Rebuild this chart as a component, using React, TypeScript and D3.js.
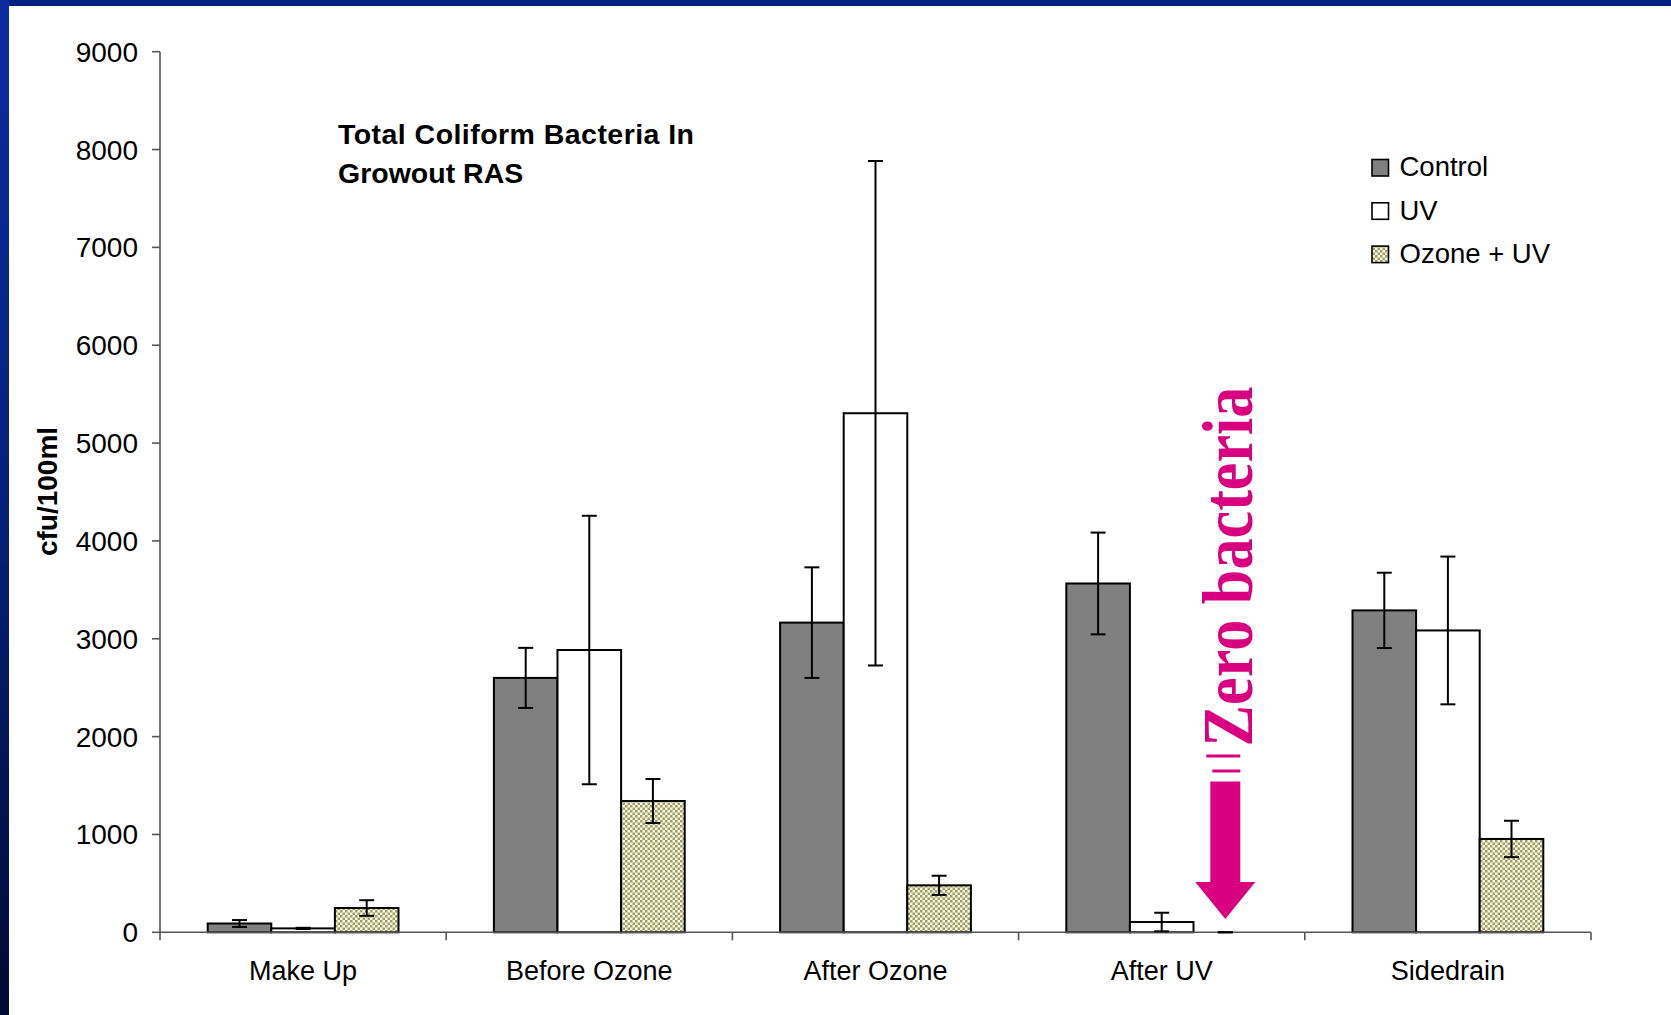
import React from "react";
import * as d3 from "d3";

const categories = ["Make Up", "Before Ozone", "After Ozone", "After UV", "Sidedrain"];
const seriesNames = ["Control", "UV", "Ozone + UV"];
const controlValues = [90, 2600, 3165, 3565, 3290];
const controlErrors = [35, 307, 565, 520, 385];
const uvValues = [40, 2885, 5305, 105, 3085];
const uvErrors = [6, 1372, 2578, 95, 755];
const ozoneValues = [248, 1342, 480, 0, 954];
const ozoneErrors = [80, 225, 98, 0, 186];
const yTicks = [0, 1000, 2000, 3000, 4000, 5000, 6000, 7000, 8000, 9000];

const W = 1671;
const H = 1015;
const plotLeft = 160;
const plotRight = 1591;
const plotTop = 51.7;
const plotBottom = 932.3;
const MAGENTA = "#d8007e";

export default function App() {
  const x = d3.scaleBand<string>().domain(categories).range([plotLeft, plotRight]).padding(0);
  const xs = d3.scaleBand<string>().domain(seriesNames).range([0, x.bandwidth()]).paddingInner(0).paddingOuter(0.75);
  const y = d3.scaleLinear().domain([0, 9000]).range([plotBottom, plotTop]);

  const series = [
    { name: "Control", values: controlValues, errors: controlErrors, fill: "#808080" },
    { name: "UV", values: uvValues, errors: uvErrors, fill: "#ffffff" },
    { name: "Ozone + UV", values: ozoneValues, errors: ozoneErrors, fill: "url(#checker)" },
  ];

  const font = "'Liberation Sans', Arial, sans-serif";
  const bw = xs.bandwidth();
  const capW = 7.5;

  // annotation for After UV / Ozone + UV
  const annX = (x("After UV") as number) + (xs("Ozone + UV") as number) + bw / 2;
  const tipY = y(136);
  const headY = y(514);
  const shaftTop = y(1541);
  const textStartY = y(1900);
  const textEndY = y(5578);

  return (
    <svg width={W} height={H} style={{ position: "absolute", left: 0, top: 0, display: "block" }}>
      <defs>
        <linearGradient id="leftbar" x1="0" y1="0" x2="0" y2="1">
          <stop offset="0" stopColor="#0b2ca0" />
          <stop offset="0.5" stopColor="#06207a" />
          <stop offset="1" stopColor="#000a32" />
        </linearGradient>
        <pattern id="checker" width="5" height="5" patternUnits="userSpaceOnUse">
          <rect width="5" height="5" fill="#ffffc4" />
          <rect x="0" y="0" width="2.5" height="2.5" fill="#9a9a8a" />
          <rect x="2.5" y="2.5" width="2.5" height="2.5" fill="#9a9a8a" />
        </pattern>
      </defs>
      <rect x={0} y={0} width={W} height={H} fill="#ffffff" />
      <rect x={0} y={0} width={W} height={6} fill="#00207f" />
      <rect x={0} y={0} width={9} height={H} fill="url(#leftbar)" />

      {/* bars */}
      {series.map((s) =>
        categories.map((c, i) => {
          const bx = (x(c) as number) + (xs(s.name) as number);
          const v = s.values[i];
          return (
            <rect
              key={s.name + c}
              x={bx}
              y={y(v)}
              width={bw}
              height={y(0) - y(v)}
              fill={s.fill}
              stroke="#000"
              strokeWidth={v > 0 ? 2 : 0}
            />
          );
        })
      )}

      {/* axes */}
      <line x1={plotLeft} x2={plotLeft} y1={plotTop} y2={plotBottom + 8} stroke="#555" strokeWidth={1.6} />
      <line x1={plotLeft} x2={plotRight} y1={plotBottom} y2={plotBottom} stroke="#555" strokeWidth={1.6} />
      {yTicks.map((t) => (
        <g key={t}>
          <line x1={plotLeft - 8} x2={plotLeft} y1={y(t)} y2={y(t)} stroke="#555" strokeWidth={1.6} />
          <text x={138} y={y(t) + 10} textAnchor="end" fontFamily={font} fontSize={28} fill="#000">
            {t}
          </text>
        </g>
      ))}
      {categories.map((c) => (
        <g key={c}>
          <line
            x1={(x(c) as number) + x.bandwidth()}
            x2={(x(c) as number) + x.bandwidth()}
            y1={plotBottom}
            y2={plotBottom + 8}
            stroke="#555"
            strokeWidth={1.6}
          />
          <text
            x={(x(c) as number) + x.bandwidth() / 2}
            y={980}
            textAnchor="middle"
            fontFamily={font}
            fontSize={27}
            fill="#000"
          >
            {c}
          </text>
        </g>
      ))}

      {/* error bars */}
      {series.map((s) =>
        categories.map((c, i) => {
          const cx = (x(c) as number) + (xs(s.name) as number) + bw / 2;
          const v = s.values[i];
          const e = s.errors[i];
          const yt = y(v + e);
          const yb = y(Math.max(0, v - e));
          return (
            <g key={"e" + s.name + c} stroke="#000" strokeWidth={2}>
              <line x1={cx} x2={cx} y1={yt} y2={yb} />
              <line x1={cx - capW} x2={cx + capW} y1={yt} y2={yt} />
              <line x1={cx - capW} x2={cx + capW} y1={yb} y2={yb} />
            </g>
          );
        })
      )}

      {/* title */}
      <text fontFamily={font} fontSize={28.5} fontWeight="bold" fill="#000">
        <tspan x={338} y={143.5} textLength={356} lengthAdjust="spacing">Total Coliform Bacteria In</tspan>
        <tspan x={338} y={183}>Growout RAS</tspan>
      </text>

      {/* y axis title */}
      <text
        transform={`translate(57,491.5) rotate(-90)`}
        textAnchor="middle"
        fontFamily={font}
        fontSize={28}
        fontWeight="bold"
        fill="#000"
      >
        cfu/100ml
      </text>

      {/* legend */}
      {series.map((s, i) => {
        const ly = 159.5 + i * 43.3;
        return (
          <g key={"l" + s.name}>
            <rect x={1372} y={ly} width={16.5} height={16.5} fill={s.fill} stroke="#000" strokeWidth={1.6} />
            <text x={1399.5} y={ly + 16.8} fontFamily={font} fontSize={27.5} fill="#000">
              {s.name}
            </text>
          </g>
        );
      })}

      {/* Zero bacteria annotation */}
      <path
        d={`M${annX - 15},${shaftTop} L${annX + 15},${shaftTop} L${annX + 15},${headY} L${annX + 30},${headY} L${annX},${tipY} L${annX - 30},${headY} L${annX - 15},${headY} Z`}
        fill={MAGENTA}
      />
      <line x1={annX - 19} x2={annX + 15} y1={756} y2={756} stroke={MAGENTA} strokeWidth={3} />
      <line x1={annX - 13} x2={annX + 15} y1={771} y2={771} stroke={MAGENTA} strokeWidth={3} />
      <text
        transform={`translate(${annX + 26.5},${textStartY}) rotate(-90)`}
        fontFamily="'Liberation Serif', 'Times New Roman', serif"
        fontWeight="bold"
        fontSize={71}
        fill={MAGENTA}
        textLength={textStartY - textEndY}
        lengthAdjust="spacingAndGlyphs"
      >
        Zero bacteria
      </text>
    </svg>
  );
}
